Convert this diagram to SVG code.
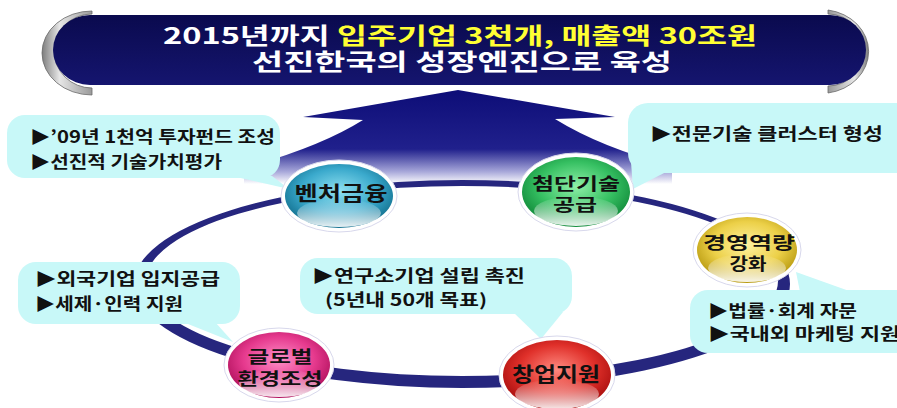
<svg xmlns="http://www.w3.org/2000/svg" width="897" height="408" viewBox="0 0 897 408">
<defs>
<linearGradient id="navy" x1="0" y1="0" x2="0" y2="1"><stop offset="0" stop-color="#0a0a4e"/><stop offset="1" stop-color="#15156f"/></linearGradient>
<linearGradient id="silverL" x1="0" y1="0" x2="1" y2="0"><stop offset="0" stop-color="#7d7d7d"/><stop offset="0.35" stop-color="#e6e6e6"/><stop offset="1" stop-color="#9a9a9a"/></linearGradient>
<linearGradient id="silverR" x1="1" y1="0" x2="0" y2="0"><stop offset="0" stop-color="#7d7d7d"/><stop offset="0.35" stop-color="#e6e6e6"/><stop offset="1" stop-color="#9a9a9a"/></linearGradient>
<linearGradient id="arrowG" gradientUnits="userSpaceOnUse" x1="0" y1="92" x2="0" y2="184"><stop offset="0" stop-color="#0e0e78"/><stop offset="0.62" stop-color="#20208c"/><stop offset="0.86" stop-color="#a4a4d8"/><stop offset="1" stop-color="#ffffff"/></linearGradient>
<radialGradient id="gCyan" cx="50%" cy="42%" r="58%"><stop offset="0" stop-color="#8fe0f0"/><stop offset="0.6" stop-color="#3aa9cc"/><stop offset="1" stop-color="#12708f"/></radialGradient>
<radialGradient id="gGreen" cx="50%" cy="42%" r="58%"><stop offset="0" stop-color="#8ff0a8"/><stop offset="0.6" stop-color="#36c062"/><stop offset="1" stop-color="#118a3a"/></radialGradient>
<radialGradient id="gYellow" cx="50%" cy="42%" r="58%"><stop offset="0" stop-color="#fff2a0"/><stop offset="0.6" stop-color="#ecd048"/><stop offset="1" stop-color="#b89a10"/></radialGradient>
<radialGradient id="gRed" cx="50%" cy="42%" r="58%"><stop offset="0" stop-color="#ff8a80"/><stop offset="0.6" stop-color="#e0302a"/><stop offset="1" stop-color="#a80e0e"/></radialGradient>
<radialGradient id="gPink" cx="50%" cy="42%" r="58%"><stop offset="0" stop-color="#ff90c8"/><stop offset="0.6" stop-color="#e63a8e"/><stop offset="1" stop-color="#b0105c"/></radialGradient>
<linearGradient id="gloss" x1="0" y1="0" x2="0" y2="1"><stop offset="0" stop-color="#ffffff" stop-opacity="0"/><stop offset="1" stop-color="#ffffff" stop-opacity="0.9"/></linearGradient>
<style>
.t{font-family:"Noto Sans CJK KR","Noto Sans",sans-serif;font-weight:bold}
.title{font-size:23px;fill:#ffffff}
.hl{fill:#ffff33}
.call{fill:#c8f8f8}
.ct{font-size:17px;fill:#111111}
.nt{font-size:20px;fill:#111111;text-anchor:middle}
.nt2{font-size:17px;fill:#111111;text-anchor:middle}
.halo{fill:#ffffff;stroke:#d8d8ec;stroke-width:1}
.gl{fill:url(#gloss)}
</style>
</defs>
<rect width="897" height="408" fill="#ffffff"/>

<g id="connectors">
<path id="bigArrow" d="M458,90 L615,117 L555,119 Q602,148 672,166 L672,200 L244,200 L244,168 Q320,147 363,120 L303,117 Z" fill="url(#arrowG)"/>
<path id="ring" fill-rule="evenodd" fill="#26267e" d="M134,284 A328,104 0 1 0 790,284 A328,104 0 1 0 134,284 Z M146,281 A316,95 0 1 1 778,281 A316,95 0 1 1 146,281 Z"/>
</g>

<g id="banner">
<path d="M92,11 A50,42 0 0 0 92,95 L92,88 A38,37 0 0 1 92,14 Z" fill="url(#silverL)" stroke="#6a6a6a" stroke-width="0.8"/>
<path d="M828,10 A48,42 0 0 1 828,93 L828,86 A36,36 0 0 0 828,14 Z" fill="url(#silverR)" stroke="#6a6a6a" stroke-width="0.8"/>
<path d="M90,15 L830,15 A36,35 0 0 1 830,85 L90,85 A37,35 0 0 1 90,15 Z" fill="url(#navy)"/>
<text class="t title" x="460" y="44" text-anchor="middle" textLength="594" lengthAdjust="spacingAndGlyphs">2015년까지 <tspan class="hl">입주기업 3천개, 매출액 30조원</tspan></text>
<text class="t title" x="462" y="70" text-anchor="middle" textLength="420" lengthAdjust="spacingAndGlyphs">선진한국의 성장엔진으로 육성</text>
</g>

<g id="callout-venture">
<rect class="call" x="7" y="115" width="273" height="63" rx="18"/>
<polygon class="call" points="232,176 272,176 289,189"/>
<text class="t ct" x="30" y="143" textLength="245" lengthAdjust="spacingAndGlyphs">▶’09년 1천억 투자펀드 조성</text>
<text class="t ct" x="30" y="168" textLength="192" lengthAdjust="spacingAndGlyphs">▶선진적 기술가치평가</text>
</g>
<g id="callout-tech">
<rect class="call" x="628" y="103" width="295" height="70" rx="20"/>
<polygon class="call" points="630,148 668,171 633,189"/>
<text class="t ct" x="650" y="140" textLength="233" lengthAdjust="spacingAndGlyphs">▶전문기술 클러스터 형성</text>
</g>
<g id="callout-global">
<rect class="call" x="18" y="262" width="222" height="62" rx="18"/>
<polygon class="call" points="183,322 215,322 233,342"/>
<text class="t ct" x="35" y="285" textLength="185" lengthAdjust="spacingAndGlyphs">▶외국기업 입지공급</text>
<text class="t ct" x="35" y="310" textLength="148" lengthAdjust="spacingAndGlyphs">▶세제·인력 지원</text>
</g>
<g id="callout-startup">
<rect class="call" x="300" y="258" width="272" height="56" rx="18"/>
<polygon class="call" points="513,312 563,312 541,339"/>
<text class="t ct" x="312" y="282" textLength="213" lengthAdjust="spacingAndGlyphs">▶연구소기업 설립 촉진</text>
<text class="t ct" x="325" y="306" textLength="162" lengthAdjust="spacingAndGlyphs">(5년내 50개 목표)</text>
</g>
<g id="callout-mgmt">
<rect class="call" x="690" y="290" width="240" height="63" rx="18"/>
<polygon class="call" points="800,292 852,292 796,272"/>
<text class="t ct" x="708" y="317" textLength="149" lengthAdjust="spacingAndGlyphs">▶법률·회계 자문</text>
<text class="t ct" x="708" y="340" textLength="192" lengthAdjust="spacingAndGlyphs">▶국내외 마케팅 지원</text>
</g>

<g id="node-venture">
<ellipse class="halo" cx="339" cy="196" rx="58" ry="36"/>
<ellipse cx="339" cy="196" rx="54" ry="32" fill="url(#gCyan)"/>
<ellipse class="gl" cx="339" cy="213" rx="42" ry="14"/>
<text class="t nt" x="341" y="201" textLength="93" lengthAdjust="spacingAndGlyphs">벤처금융</text>
</g>
<g id="node-tech">
<ellipse class="halo" cx="576" cy="192" rx="58" ry="39"/>
<ellipse cx="576" cy="192" rx="54" ry="35" fill="url(#gGreen)"/>
<ellipse class="gl" cx="576" cy="211" rx="42" ry="15"/>
<text class="t nt2" x="576" y="190" textLength="88" lengthAdjust="spacingAndGlyphs">첨단기술</text>
<text class="t nt2" x="575" y="211" textLength="44" lengthAdjust="spacingAndGlyphs">공급</text>
</g>
<g id="node-mgmt">
<ellipse class="halo" cx="747" cy="250" rx="54" ry="37"/>
<ellipse cx="747" cy="250" rx="50" ry="33" fill="url(#gYellow)"/>
<ellipse class="gl" cx="747" cy="268" rx="39" ry="14"/>
<text class="t nt2" x="749" y="249" textLength="92" lengthAdjust="spacingAndGlyphs">경영역량</text>
<text class="t nt2" x="748" y="270" textLength="37" lengthAdjust="spacingAndGlyphs">강화</text>
</g>
<g id="node-startup">
<ellipse class="halo" cx="557" cy="375" rx="58" ry="39"/>
<ellipse cx="557" cy="375" rx="54" ry="35" fill="url(#gRed)"/>
<ellipse class="gl" cx="557" cy="394" rx="42" ry="15"/>
<text class="t nt" x="556" y="382" textLength="88" lengthAdjust="spacingAndGlyphs">창업지원</text>
</g>
<g id="node-global">
<ellipse class="halo" cx="279" cy="365" rx="55" ry="37"/>
<ellipse cx="279" cy="365" rx="51" ry="33" fill="url(#gPink)"/>
<ellipse class="gl" cx="279" cy="383" rx="40" ry="14"/>
<text class="t nt2" x="280" y="363" textLength="65" lengthAdjust="spacingAndGlyphs">글로벌</text>
<text class="t nt2" x="280" y="385" textLength="85" lengthAdjust="spacingAndGlyphs">환경조성</text>
</g>
</svg>
